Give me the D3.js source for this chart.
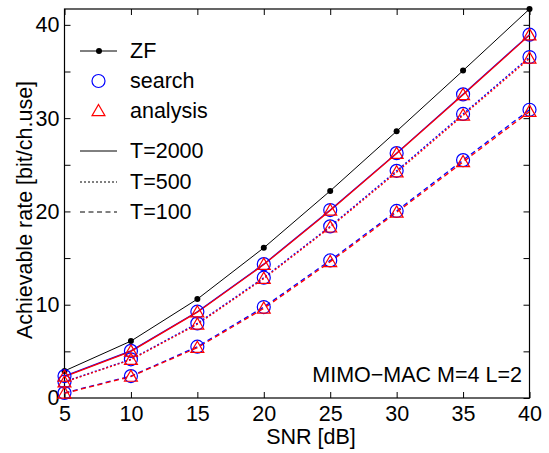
<!DOCTYPE html>
<html lang="en">
    <head>
        <meta charset="UTF-8">
        <title>Achievable rate vs SNR</title>
        <style>
            body { margin: 0; background: #ffffff; }
            text { font-family: "Liberation Sans", Arial, sans-serif; }
        </style>
    </head>
    <body>
        <div id="chart"></div>

        <script src="https://d3js.org/d3.v7.min.js"></script>
        <script>

            // SNR points (dB)
            var snr = [5, 10, 15, 20, 25, 30, 35, 40];

            // ZF reference curve
            var zf = [2.9, 6.1, 10.6, 16.1, 22.2, 28.6, 35.1, 41.7];

            // search (blue circles)
            var search2000 = [2.35, 5.05, 9.25, 14.35, 20.15, 26.25, 32.55, 38.95];
            var search500  = [1.75, 4.15, 8.0, 12.9, 18.4, 24.35, 30.45, 36.55];
            var search100  = [0.55, 2.35, 5.5, 9.75, 14.75, 20.05, 25.5, 30.9];

            // analysis (red triangles)
            var analysis2000 = [2.3, 5.0, 9.2, 14.3, 20.1, 26.2, 32.5, 38.9];
            var analysis500  = [1.7, 4.1, 7.9, 12.8, 18.3, 24.2, 30.3, 36.4];
            var analysis100  = [0.5, 2.3, 5.4, 9.6, 14.6, 19.9, 25.3, 30.7];

            var yTicks = [0, 5, 10, 15, 20, 25, 30, 35, 40];

            var legendItems = ["ZF", "search", "analysis", "T=2000", "T=500", "T=100"];

            // canvas
            var W = 549, H = 453;
            var margin = {top: 9, left: 64.5, right: 19.5, bottom: 55};
            var width = W - margin.left - margin.right;
            var height = H - margin.top - margin.bottom;

            var svg = d3.select("#chart")
                .append("svg")
                    .attr("width", W)
                    .attr("height", H)
                .append("g")
                    .attr("transform", "translate(" + margin.left + "," + margin.top + ")");

            var x = d3.scaleLinear()
                .domain([5, 40])
                .range([0, width]);

            var y = d3.scaleLinear()
                .domain([0, d3.max(zf)])
                .range([height, 0]);

            var fontSize = "21.5px";

            // axes with inward ticks on all four sides
            svg.append("g")
                .attr("transform", "translate(0," + height + ")")
                .call(d3.axisBottom(x).tickValues(snr).tickSizeInner(-6).tickSizeOuter(0).tickPadding(8));

            svg.append("g")
                .call(d3.axisTop(x).tickValues(snr).tickSizeInner(-6).tickSizeOuter(0).tickFormat(""));

            svg.append("g")
                .call(d3.axisLeft(y).tickValues(yTicks).tickSizeInner(-6).tickSizeOuter(0).tickPadding(5)
                    .tickFormat(function (d) { return d % 10 === 0 ? d : ""; }));

            svg.append("g")
                .attr("transform", "translate(" + width + ",0)")
                .call(d3.axisRight(y).tickValues(yTicks).tickSizeInner(-6).tickSizeOuter(0).tickFormat(""));

            svg.selectAll(".domain").remove();
            svg.selectAll(".tick line").attr("stroke", "#000").attr("stroke-width", 1);
            svg.selectAll(".tick text")
                .attr("fill", "#000")
                .style("font-size", fontSize);

            // box
            svg.append("rect")
                .attr("x", 0)
                .attr("y", 0)
                .attr("width", width)
                .attr("height", height)
                .attr("fill", "none")
                .attr("stroke", "#000")
                .attr("stroke-width", 1.2);

            // axis labels
            svg.append("text")
                .attr("x", 311 - margin.left)
                .attr("y", 444 - margin.top)
                .attr("text-anchor", "middle")
                .style("font-size", fontSize)
                .text("SNR [dB]");

            svg.append("text")
                .attr("transform", "translate(" + (32 - margin.left) + "," + (210 - margin.top) + ") rotate(-90)")
                .attr("text-anchor", "middle")
                .style("font-size", fontSize)
                .text("Achievable rate [bit/ch.use]");

            var line = d3.line()
                .x(function (d, i) { return x(snr[i]); })
                .y(function (d) { return y(d); });

            var dashes = {"2000": null, "500": "2,2", "100": "5,3.5"};

            var series = [
                {vals: search2000, color: "#0000ff", dash: dashes["2000"], mark: "circle"},
                {vals: search500, color: "#0000ff", dash: dashes["500"], mark: "circle"},
                {vals: search100, color: "#0000ff", dash: dashes["100"], mark: "circle"},
                {vals: analysis2000, color: "#ff0000", dash: dashes["2000"], mark: "triangle"},
                {vals: analysis500, color: "#ff0000", dash: dashes["500"], mark: "triangle"},
                {vals: analysis100, color: "#ff0000", dash: dashes["100"], mark: "triangle"}
            ];

            var triangle = d3.symbol().type(d3.symbolTriangle).size(72);

            // ZF line
            svg.append("path")
                .attr("d", line(zf))
                .attr("fill", "none")
                .attr("stroke", "#000")
                .attr("stroke-width", 1);

            svg.selectAll(".zfdot")
                .data(zf)
                .enter()
                .append("circle")
                    .attr("cx", function (d, i) { return x(snr[i]); })
                    .attr("cy", function (d) { return y(d); })
                    .attr("r", 3)
                    .attr("fill", "#000");

            series.forEach(function (s) {
                svg.append("path")
                    .attr("d", line(s.vals))
                    .attr("fill", "none")
                    .attr("stroke", s.color)
                    .attr("stroke-width", 1.3)
                    .attr("stroke-dasharray", s.dash);
            });

            series.forEach(function (s) {
                var g = svg.append("g");
                if (s.mark === "circle") {
                    g.selectAll("circle")
                        .data(s.vals)
                        .enter()
                        .append("circle")
                            .attr("cx", function (d, i) { return x(snr[i]); })
                            .attr("cy", function (d) { return y(d); })
                            .attr("r", 6.5)
                            .attr("fill", "none")
                            .attr("stroke", s.color)
                            .attr("stroke-width", 1.2);
                } else {
                    g.selectAll("path")
                        .data(s.vals)
                        .enter()
                        .append("path")
                            .attr("d", triangle)
                            .attr("transform", function (d, i) { return "translate(" + x(snr[i]) + "," + (y(d) + 1) + ")"; })
                            .attr("fill", "none")
                            .attr("stroke", s.color)
                            .attr("stroke-width", 1.2);
                }
            });

            // annotation
            svg.append("text")
                .attr("x", 522 - margin.left)
                .attr("y", 382 - margin.top)
                .attr("text-anchor", "end")
                .style("font-size", fontSize)
                .text("MIMO\u2212MAC M=4 L=2");

            // legend (two blocks, no border)
            var legendRows = [51, 81, 111, 151, 182, 212];
            var legend = svg.append("g")
                .attr("transform", "translate(" + (-margin.left) + "," + (-margin.top) + ")");

            legendItems.forEach(function (label, i) {
                var ry = legendRows[i];
                if (i === 0 || i >= 3) {
                    legend.append("line")
                        .attr("x1", 80).attr("x2", 117)
                        .attr("y1", ry).attr("y2", ry)
                        .attr("stroke", "#000")
                        .attr("stroke-width", 1)
                        .attr("stroke-dasharray", i === 4 ? "2,2" : (i === 5 ? "5,3.5" : null));
                }
                if (i === 0) {
                    legend.append("circle").attr("cx", 99).attr("cy", ry).attr("r", 3).attr("fill", "#000");
                }
                if (i === 1) {
                    legend.append("circle").attr("cx", 98.5).attr("cy", ry).attr("r", 6.5)
                        .attr("fill", "none").attr("stroke", "#0000ff").attr("stroke-width", 1.2);
                }
                if (i === 2) {
                    legend.append("path").attr("d", triangle)
                        .attr("transform", "translate(98.5," + (ry + 1) + ")")
                        .attr("fill", "none").attr("stroke", "#ff0000").attr("stroke-width", 1.2);
                }
                legend.append("text")
                    .attr("x", 130)
                    .attr("y", ry + 7)
                    .style("font-size", fontSize)
                    .text(label);
            });

        </script>
    </body>
</html>
